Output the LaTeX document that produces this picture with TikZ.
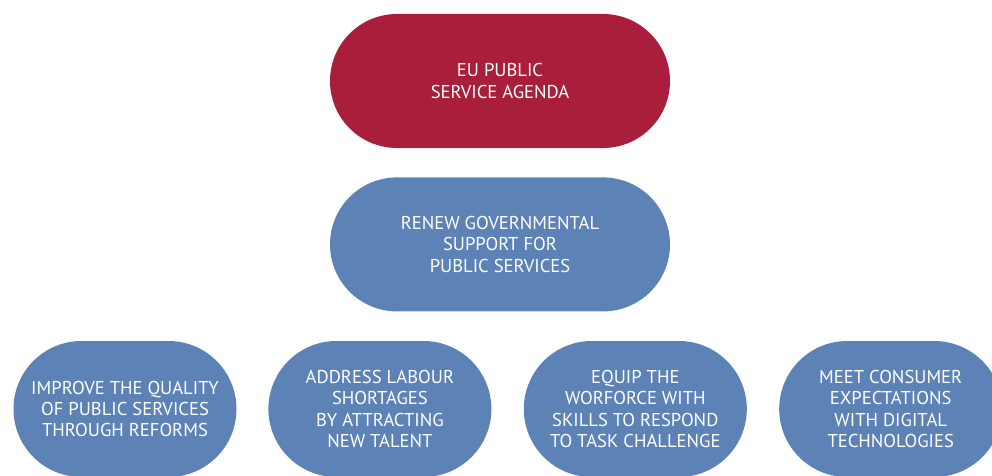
\documentclass[tikz,border=0pt]{standalone}
\usepackage{fontspec}
\setmainfont{PT Sans}
\usetikzlibrary{positioning}
\definecolor{eured}{RGB}{168,30,59}
\definecolor{eublue}{RGB}{92,130,182}

\begin{document}
\begin{tikzpicture}[
    x=1pt, y=1pt,
    node distance=29pt,
    pill/.style={rectangle, rounded corners=67pt, minimum width=340pt, minimum height=134pt, inner sep=0pt, align=center, text=white, font=\fontsize{18.6}{21.2}\selectfont},
    goal/.style={pill, fill=eublue, rounded corners=68pt, minimum width=223pt, minimum height=136pt}
]
\useasboundingbox (0,0) rectangle (992,475);
\clip (0,0) rectangle (992,475);

% Agenda
\node[pill, fill=eured] (agenda) at (500,394) {EU PUBLIC\\SERVICE AGENDA};

% Governmental support
\node[pill, fill=eublue, below=29pt of agenda] (renew) {RENEW GOVERNMENTAL\\SUPPORT FOR\\PUBLIC SERVICES};

% Goals
\node[goal] (quality) at (125,66) {IMPROVE THE QUALITY\\OF PUBLIC SERVICES\\THROUGH REFORMS};
\node[goal, right=31.5pt of quality] (labour) {ADDRESS LABOUR\\SHORTAGES\\BY ATTRACTING\\NEW TALENT};
\node[goal, right=32pt of labour] (skills) {EQUIP THE\\WORFORCE WITH\\SKILLS TO RESPOND\\TO TASK CHALLENGE};
\node[goal, right=32pt of skills] (digital) {MEET CONSUMER\\EXPECTATIONS\\WITH DIGITAL\\TECHNOLOGIES};

\end{tikzpicture}
\end{document}
